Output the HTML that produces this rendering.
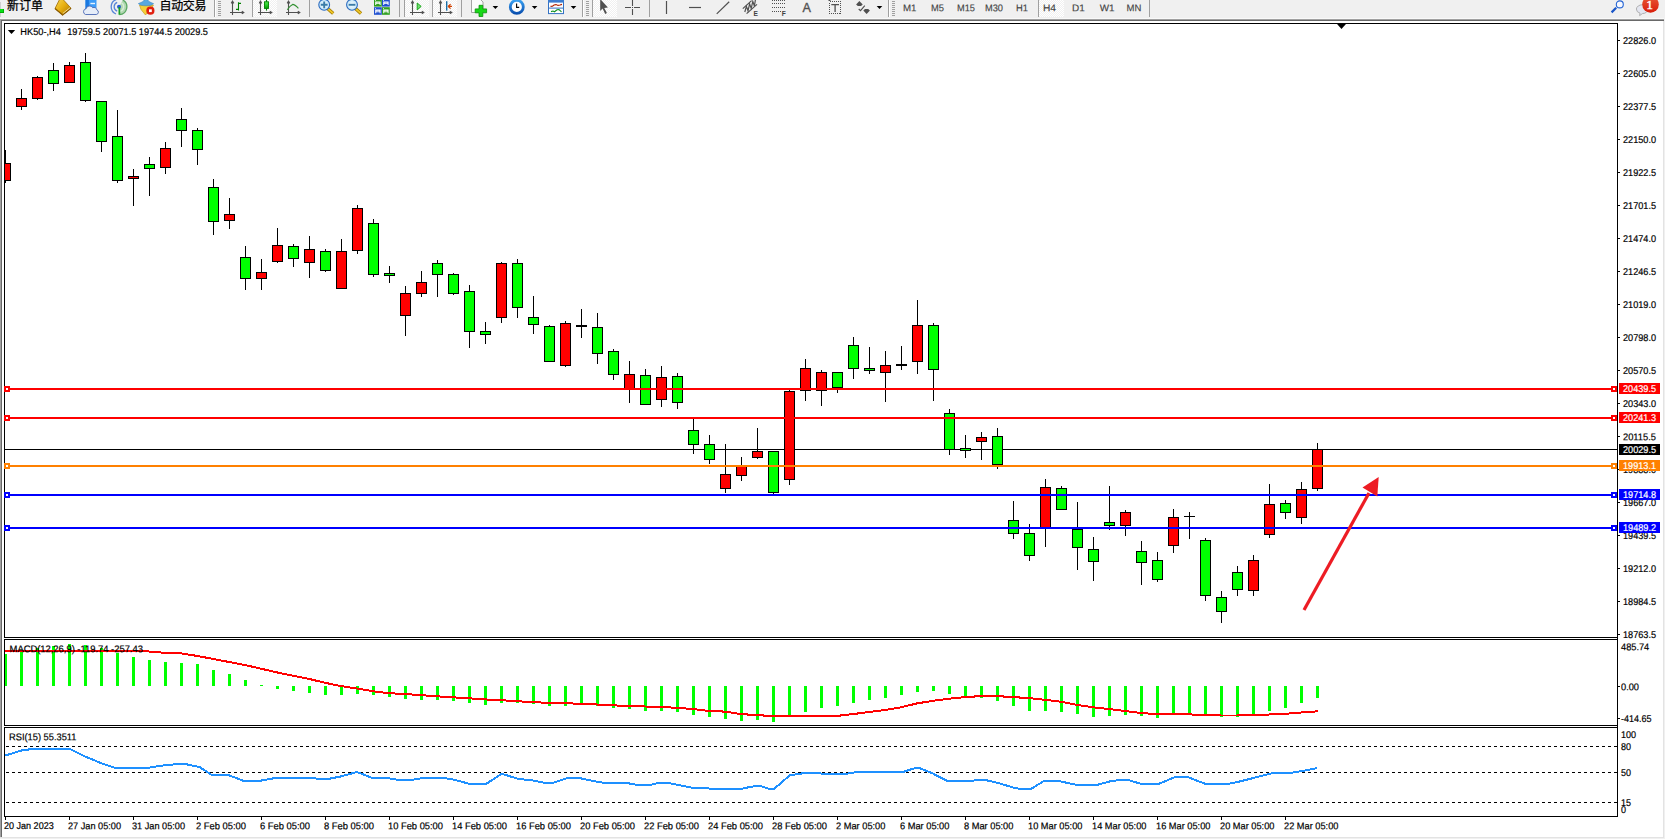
<!DOCTYPE html>
<html><head><meta charset="utf-8"><title>HK50-,H4</title>
<style>
html,body{margin:0;padding:0;background:#fff;}
body{width:1665px;height:839px;overflow:hidden;position:relative;font-family:"Liberation Sans","Noto Sans CJK SC",sans-serif;}
svg text{font-family:"Liberation Sans","Noto Sans CJK SC",sans-serif;}
.ax{font-size:9.8px;fill:#000;stroke:#000;stroke-width:0.2px;}
.wt{fill:#fff;stroke:#fff;}
.tf{font-size:9.8px;fill:#444;stroke:#444;stroke-width:0.15px;}
.cn{font-size:12px;fill:#000;stroke:#000;stroke-width:0.25px;}
</style></head><body>
<svg width="1665" height="839" viewBox="0 0 1665 839" style="position:absolute;left:0;top:0" shape-rendering="crispEdges">
<rect x="0" y="0" width="1665" height="19" fill="#f0f0f0"/>
<rect x="0" y="18" width="1664" height="1" fill="#f9f9f9"/>
<rect x="0" y="19" width="1664" height="1" fill="#a0a0a0"/>
<rect x="1" y="20" width="1663" height="1" fill="#696969"/>
<rect x="0" y="19" width="1" height="818" fill="#a0a0a0"/>
<rect x="1" y="20" width="1" height="817" fill="#696969"/>
<rect x="1663" y="21" width="1" height="817" fill="#e3e3e3"/>
<rect x="1664" y="0" width="1" height="839" fill="#f0f0f0"/>
<rect x="0" y="837" width="1664" height="1" fill="#e3e3e3"/>
<rect x="0" y="838" width="1665" height="1" fill="#f0f0f0"/>
<rect x="4" y="23" width="1614" height="1" fill="#000"/>
<rect x="4" y="637" width="1614" height="1" fill="#000"/>
<rect x="4" y="23" width="1" height="615" fill="#000"/>
<rect x="4" y="639" width="1614" height="1" fill="#000"/>
<rect x="4" y="725" width="1614" height="1" fill="#000"/>
<rect x="4" y="639" width="1" height="87" fill="#000"/>
<rect x="4" y="727" width="1614" height="1" fill="#000"/>
<rect x="4" y="816" width="1614" height="1" fill="#000"/>
<rect x="4" y="727" width="1" height="90" fill="#000"/>
<rect x="1617" y="23" width="1" height="794" fill="#000"/>
<rect x="5" y="449" width="1613" height="1" fill="#000"/>
<g>
<rect x="5" y="150" width="1" height="33" fill="#000"/>
<rect x="5" y="163" width="6" height="18" fill="#000"/>
<rect x="5" y="164" width="5" height="16" fill="#ff0000"/>
<rect x="21" y="89" width="1" height="21" fill="#000"/>
<rect x="16" y="98" width="11" height="9" fill="#000"/>
<rect x="17" y="99" width="9" height="7" fill="#ff0000"/>
<rect x="37" y="76" width="1" height="24" fill="#000"/>
<rect x="32" y="77" width="11" height="22" fill="#000"/>
<rect x="33" y="78" width="9" height="20" fill="#ff0000"/>
<rect x="53" y="63" width="1" height="28" fill="#000"/>
<rect x="48" y="70" width="11" height="14" fill="#000"/>
<rect x="49" y="71" width="9" height="12" fill="#00ff00"/>
<rect x="69" y="62" width="1" height="21" fill="#000"/>
<rect x="64" y="65" width="11" height="18" fill="#000"/>
<rect x="65" y="66" width="9" height="16" fill="#ff0000"/>
<rect x="85" y="53" width="1" height="49" fill="#000"/>
<rect x="80" y="62" width="11" height="39" fill="#000"/>
<rect x="81" y="63" width="9" height="37" fill="#00ff00"/>
<rect x="101" y="101" width="1" height="51" fill="#000"/>
<rect x="96" y="101" width="11" height="41" fill="#000"/>
<rect x="97" y="102" width="9" height="39" fill="#00ff00"/>
<rect x="117" y="110" width="1" height="73" fill="#000"/>
<rect x="112" y="136" width="11" height="45" fill="#000"/>
<rect x="113" y="137" width="9" height="43" fill="#00ff00"/>
<rect x="133" y="169" width="1" height="37" fill="#000"/>
<rect x="128" y="176" width="11" height="3" fill="#000"/>
<rect x="129" y="177" width="9" height="1" fill="#ff0000"/>
<rect x="149" y="157" width="1" height="39" fill="#000"/>
<rect x="144" y="164" width="11" height="5" fill="#000"/>
<rect x="145" y="165" width="9" height="3" fill="#00ff00"/>
<rect x="165" y="142" width="1" height="32" fill="#000"/>
<rect x="160" y="148" width="11" height="20" fill="#000"/>
<rect x="161" y="149" width="9" height="18" fill="#ff0000"/>
<rect x="181" y="108" width="1" height="39" fill="#000"/>
<rect x="176" y="119" width="11" height="12" fill="#000"/>
<rect x="177" y="120" width="9" height="10" fill="#00ff00"/>
<rect x="197" y="128" width="1" height="37" fill="#000"/>
<rect x="192" y="130" width="11" height="20" fill="#000"/>
<rect x="193" y="131" width="9" height="18" fill="#00ff00"/>
<rect x="213" y="179" width="1" height="56" fill="#000"/>
<rect x="208" y="187" width="11" height="35" fill="#000"/>
<rect x="209" y="188" width="9" height="33" fill="#00ff00"/>
<rect x="229" y="198" width="1" height="31" fill="#000"/>
<rect x="224" y="214" width="11" height="7" fill="#000"/>
<rect x="225" y="215" width="9" height="5" fill="#ff0000"/>
<rect x="245" y="246" width="1" height="44" fill="#000"/>
<rect x="240" y="257" width="11" height="22" fill="#000"/>
<rect x="241" y="258" width="9" height="20" fill="#00ff00"/>
<rect x="261" y="259" width="1" height="31" fill="#000"/>
<rect x="256" y="272" width="11" height="7" fill="#000"/>
<rect x="257" y="273" width="9" height="5" fill="#ff0000"/>
<rect x="277" y="228" width="1" height="35" fill="#000"/>
<rect x="272" y="245" width="11" height="17" fill="#000"/>
<rect x="273" y="246" width="9" height="15" fill="#ff0000"/>
<rect x="293" y="244" width="1" height="23" fill="#000"/>
<rect x="288" y="246" width="11" height="13" fill="#000"/>
<rect x="289" y="247" width="9" height="11" fill="#00ff00"/>
<rect x="309" y="236" width="1" height="42" fill="#000"/>
<rect x="304" y="249" width="11" height="14" fill="#000"/>
<rect x="305" y="250" width="9" height="12" fill="#ff0000"/>
<rect x="325" y="249" width="1" height="23" fill="#000"/>
<rect x="320" y="251" width="11" height="20" fill="#000"/>
<rect x="321" y="252" width="9" height="18" fill="#00ff00"/>
<rect x="341" y="239" width="1" height="50" fill="#000"/>
<rect x="336" y="251" width="11" height="38" fill="#000"/>
<rect x="337" y="252" width="9" height="36" fill="#ff0000"/>
<rect x="357" y="205" width="1" height="49" fill="#000"/>
<rect x="352" y="208" width="11" height="43" fill="#000"/>
<rect x="353" y="209" width="9" height="41" fill="#ff0000"/>
<rect x="373" y="219" width="1" height="58" fill="#000"/>
<rect x="368" y="223" width="11" height="52" fill="#000"/>
<rect x="369" y="224" width="9" height="50" fill="#00ff00"/>
<rect x="389" y="266" width="1" height="17" fill="#000"/>
<rect x="384" y="273" width="11" height="3" fill="#000"/>
<rect x="385" y="274" width="9" height="1" fill="#00ff00"/>
<rect x="405" y="286" width="1" height="50" fill="#000"/>
<rect x="400" y="293" width="11" height="23" fill="#000"/>
<rect x="401" y="294" width="9" height="21" fill="#ff0000"/>
<rect x="421" y="271" width="1" height="26" fill="#000"/>
<rect x="416" y="282" width="11" height="12" fill="#000"/>
<rect x="417" y="283" width="9" height="10" fill="#ff0000"/>
<rect x="437" y="260" width="1" height="37" fill="#000"/>
<rect x="432" y="263" width="11" height="12" fill="#000"/>
<rect x="433" y="264" width="9" height="10" fill="#00ff00"/>
<rect x="453" y="273" width="1" height="22" fill="#000"/>
<rect x="448" y="274" width="11" height="20" fill="#000"/>
<rect x="449" y="275" width="9" height="18" fill="#00ff00"/>
<rect x="469" y="285" width="1" height="63" fill="#000"/>
<rect x="464" y="291" width="11" height="41" fill="#000"/>
<rect x="465" y="292" width="9" height="39" fill="#00ff00"/>
<rect x="485" y="322" width="1" height="22" fill="#000"/>
<rect x="480" y="331" width="11" height="4" fill="#000"/>
<rect x="481" y="332" width="9" height="2" fill="#00ff00"/>
<rect x="501" y="262" width="1" height="61" fill="#000"/>
<rect x="496" y="263" width="11" height="55" fill="#000"/>
<rect x="497" y="264" width="9" height="53" fill="#ff0000"/>
<rect x="517" y="259" width="1" height="59" fill="#000"/>
<rect x="512" y="263" width="11" height="45" fill="#000"/>
<rect x="513" y="264" width="9" height="43" fill="#00ff00"/>
<rect x="533" y="296" width="1" height="38" fill="#000"/>
<rect x="528" y="317" width="11" height="8" fill="#000"/>
<rect x="529" y="318" width="9" height="6" fill="#00ff00"/>
<rect x="549" y="325" width="1" height="37" fill="#000"/>
<rect x="544" y="326" width="11" height="36" fill="#000"/>
<rect x="545" y="327" width="9" height="34" fill="#00ff00"/>
<rect x="565" y="321" width="1" height="46" fill="#000"/>
<rect x="560" y="323" width="11" height="43" fill="#000"/>
<rect x="561" y="324" width="9" height="41" fill="#ff0000"/>
<rect x="581" y="309" width="1" height="29" fill="#000"/>
<rect x="576" y="325" width="11" height="2" fill="#000"/>
<rect x="597" y="313" width="1" height="51" fill="#000"/>
<rect x="592" y="327" width="11" height="27" fill="#000"/>
<rect x="593" y="328" width="9" height="25" fill="#00ff00"/>
<rect x="613" y="349" width="1" height="31" fill="#000"/>
<rect x="608" y="351" width="11" height="24" fill="#000"/>
<rect x="609" y="352" width="9" height="22" fill="#00ff00"/>
<rect x="629" y="361" width="1" height="42" fill="#000"/>
<rect x="624" y="374" width="11" height="16" fill="#000"/>
<rect x="625" y="375" width="9" height="14" fill="#ff0000"/>
<rect x="645" y="369" width="1" height="36" fill="#000"/>
<rect x="640" y="375" width="11" height="30" fill="#000"/>
<rect x="641" y="376" width="9" height="28" fill="#00ff00"/>
<rect x="661" y="366" width="1" height="41" fill="#000"/>
<rect x="656" y="377" width="11" height="23" fill="#000"/>
<rect x="657" y="378" width="9" height="21" fill="#ff0000"/>
<rect x="677" y="373" width="1" height="36" fill="#000"/>
<rect x="672" y="376" width="11" height="27" fill="#000"/>
<rect x="673" y="377" width="9" height="25" fill="#00ff00"/>
<rect x="693" y="419" width="1" height="35" fill="#000"/>
<rect x="688" y="430" width="11" height="15" fill="#000"/>
<rect x="689" y="431" width="9" height="13" fill="#00ff00"/>
<rect x="709" y="435" width="1" height="29" fill="#000"/>
<rect x="704" y="444" width="11" height="16" fill="#000"/>
<rect x="705" y="445" width="9" height="14" fill="#00ff00"/>
<rect x="725" y="444" width="1" height="49" fill="#000"/>
<rect x="720" y="474" width="11" height="15" fill="#000"/>
<rect x="721" y="475" width="9" height="13" fill="#ff0000"/>
<rect x="741" y="457" width="1" height="24" fill="#000"/>
<rect x="736" y="466" width="11" height="10" fill="#000"/>
<rect x="737" y="467" width="9" height="8" fill="#ff0000"/>
<rect x="757" y="428" width="1" height="31" fill="#000"/>
<rect x="752" y="451" width="11" height="7" fill="#000"/>
<rect x="753" y="452" width="9" height="5" fill="#ff0000"/>
<rect x="773" y="451" width="1" height="44" fill="#000"/>
<rect x="768" y="451" width="11" height="42" fill="#000"/>
<rect x="769" y="452" width="9" height="40" fill="#00ff00"/>
<rect x="789" y="390" width="1" height="95" fill="#000"/>
<rect x="784" y="391" width="11" height="89" fill="#000"/>
<rect x="785" y="392" width="9" height="87" fill="#ff0000"/>
<rect x="805" y="359" width="1" height="42" fill="#000"/>
<rect x="800" y="368" width="11" height="23" fill="#000"/>
<rect x="801" y="369" width="9" height="21" fill="#ff0000"/>
<rect x="821" y="370" width="1" height="36" fill="#000"/>
<rect x="816" y="372" width="11" height="19" fill="#000"/>
<rect x="817" y="373" width="9" height="17" fill="#ff0000"/>
<rect x="837" y="372" width="1" height="21" fill="#000"/>
<rect x="832" y="372" width="11" height="16" fill="#000"/>
<rect x="833" y="373" width="9" height="14" fill="#00ff00"/>
<rect x="853" y="337" width="1" height="42" fill="#000"/>
<rect x="848" y="345" width="11" height="24" fill="#000"/>
<rect x="849" y="346" width="9" height="22" fill="#00ff00"/>
<rect x="869" y="347" width="1" height="27" fill="#000"/>
<rect x="864" y="368" width="11" height="3" fill="#000"/>
<rect x="865" y="369" width="9" height="1" fill="#00ff00"/>
<rect x="885" y="351" width="1" height="51" fill="#000"/>
<rect x="880" y="365" width="11" height="8" fill="#000"/>
<rect x="881" y="366" width="9" height="6" fill="#ff0000"/>
<rect x="901" y="346" width="1" height="24" fill="#000"/>
<rect x="896" y="364" width="11" height="2" fill="#000"/>
<rect x="917" y="300" width="1" height="74" fill="#000"/>
<rect x="912" y="325" width="11" height="37" fill="#000"/>
<rect x="913" y="326" width="9" height="35" fill="#ff0000"/>
<rect x="933" y="323" width="1" height="78" fill="#000"/>
<rect x="928" y="325" width="11" height="45" fill="#000"/>
<rect x="929" y="326" width="9" height="43" fill="#00ff00"/>
<rect x="949" y="409" width="1" height="46" fill="#000"/>
<rect x="944" y="413" width="11" height="37" fill="#000"/>
<rect x="945" y="414" width="9" height="35" fill="#00ff00"/>
<rect x="965" y="435" width="1" height="23" fill="#000"/>
<rect x="960" y="448" width="11" height="3" fill="#000"/>
<rect x="961" y="449" width="9" height="1" fill="#00ff00"/>
<rect x="981" y="432" width="1" height="28" fill="#000"/>
<rect x="976" y="437" width="11" height="5" fill="#000"/>
<rect x="977" y="438" width="9" height="3" fill="#ff0000"/>
<rect x="997" y="428" width="1" height="41" fill="#000"/>
<rect x="992" y="436" width="11" height="29" fill="#000"/>
<rect x="993" y="437" width="9" height="27" fill="#00ff00"/>
<rect x="1013" y="501" width="1" height="38" fill="#000"/>
<rect x="1008" y="520" width="11" height="14" fill="#000"/>
<rect x="1009" y="521" width="9" height="12" fill="#00ff00"/>
<rect x="1029" y="524" width="1" height="37" fill="#000"/>
<rect x="1024" y="533" width="11" height="23" fill="#000"/>
<rect x="1025" y="534" width="9" height="21" fill="#00ff00"/>
<rect x="1045" y="479" width="1" height="68" fill="#000"/>
<rect x="1040" y="487" width="11" height="42" fill="#000"/>
<rect x="1041" y="488" width="9" height="40" fill="#ff0000"/>
<rect x="1061" y="486" width="1" height="24" fill="#000"/>
<rect x="1056" y="488" width="11" height="22" fill="#000"/>
<rect x="1057" y="489" width="9" height="20" fill="#00ff00"/>
<rect x="1077" y="502" width="1" height="68" fill="#000"/>
<rect x="1072" y="529" width="11" height="19" fill="#000"/>
<rect x="1073" y="530" width="9" height="17" fill="#00ff00"/>
<rect x="1093" y="537" width="1" height="44" fill="#000"/>
<rect x="1088" y="549" width="11" height="13" fill="#000"/>
<rect x="1089" y="550" width="9" height="11" fill="#00ff00"/>
<rect x="1109" y="486" width="1" height="44" fill="#000"/>
<rect x="1104" y="522" width="11" height="4" fill="#000"/>
<rect x="1105" y="523" width="9" height="2" fill="#00ff00"/>
<rect x="1125" y="510" width="1" height="26" fill="#000"/>
<rect x="1120" y="512" width="11" height="14" fill="#000"/>
<rect x="1121" y="513" width="9" height="12" fill="#ff0000"/>
<rect x="1141" y="541" width="1" height="44" fill="#000"/>
<rect x="1136" y="551" width="11" height="12" fill="#000"/>
<rect x="1137" y="552" width="9" height="10" fill="#00ff00"/>
<rect x="1157" y="552" width="1" height="30" fill="#000"/>
<rect x="1152" y="560" width="11" height="20" fill="#000"/>
<rect x="1153" y="561" width="9" height="18" fill="#00ff00"/>
<rect x="1173" y="509" width="1" height="44" fill="#000"/>
<rect x="1168" y="517" width="11" height="29" fill="#000"/>
<rect x="1169" y="518" width="9" height="27" fill="#ff0000"/>
<rect x="1189" y="512" width="1" height="27" fill="#000"/>
<rect x="1184" y="516" width="11" height="1" fill="#000"/>
<rect x="1205" y="538" width="1" height="63" fill="#000"/>
<rect x="1200" y="540" width="11" height="56" fill="#000"/>
<rect x="1201" y="541" width="9" height="54" fill="#00ff00"/>
<rect x="1221" y="591" width="1" height="32" fill="#000"/>
<rect x="1216" y="597" width="11" height="15" fill="#000"/>
<rect x="1217" y="598" width="9" height="13" fill="#00ff00"/>
<rect x="1237" y="566" width="1" height="30" fill="#000"/>
<rect x="1232" y="572" width="11" height="18" fill="#000"/>
<rect x="1233" y="573" width="9" height="16" fill="#00ff00"/>
<rect x="1253" y="555" width="1" height="41" fill="#000"/>
<rect x="1248" y="560" width="11" height="31" fill="#000"/>
<rect x="1249" y="561" width="9" height="29" fill="#ff0000"/>
<rect x="1269" y="484" width="1" height="54" fill="#000"/>
<rect x="1264" y="504" width="11" height="31" fill="#000"/>
<rect x="1265" y="505" width="9" height="29" fill="#ff0000"/>
<rect x="1285" y="500" width="1" height="19" fill="#000"/>
<rect x="1280" y="503" width="11" height="10" fill="#000"/>
<rect x="1281" y="504" width="9" height="8" fill="#00ff00"/>
<rect x="1301" y="482" width="1" height="42" fill="#000"/>
<rect x="1296" y="489" width="11" height="29" fill="#000"/>
<rect x="1297" y="490" width="9" height="27" fill="#ff0000"/>
<rect x="1317" y="443" width="1" height="48" fill="#000"/>
<rect x="1312" y="449" width="11" height="40" fill="#000"/>
<rect x="1313" y="450" width="9" height="38" fill="#ff0000"/>
</g>
<rect x="5" y="388" width="1612" height="2" fill="#ff0000"/>
<rect x="1611" y="386" width="6" height="6" fill="#ff0000"/>
<rect x="1613" y="388" width="2" height="2" fill="#fff"/>
<rect x="4" y="386" width="6" height="6" fill="#ff0000"/>
<rect x="6" y="388" width="2" height="2" fill="#fff"/>
<rect x="5" y="417" width="1612" height="2" fill="#ff0000"/>
<rect x="1611" y="415" width="6" height="6" fill="#ff0000"/>
<rect x="1613" y="417" width="2" height="2" fill="#fff"/>
<rect x="4" y="415" width="6" height="6" fill="#ff0000"/>
<rect x="6" y="417" width="2" height="2" fill="#fff"/>
<rect x="5" y="465" width="1612" height="2" fill="#ff8000"/>
<rect x="1611" y="463" width="6" height="6" fill="#ff8000"/>
<rect x="1613" y="465" width="2" height="2" fill="#fff"/>
<rect x="4" y="463" width="6" height="6" fill="#ff8000"/>
<rect x="6" y="465" width="2" height="2" fill="#fff"/>
<rect x="5" y="494" width="1612" height="2" fill="#0000ff"/>
<rect x="1611" y="492" width="6" height="6" fill="#0000ff"/>
<rect x="1613" y="494" width="2" height="2" fill="#fff"/>
<rect x="4" y="492" width="6" height="6" fill="#0000ff"/>
<rect x="6" y="494" width="2" height="2" fill="#fff"/>
<rect x="5" y="527" width="1612" height="2" fill="#0000ff"/>
<rect x="1611" y="525" width="6" height="6" fill="#0000ff"/>
<rect x="1613" y="527" width="2" height="2" fill="#fff"/>
<rect x="4" y="525" width="6" height="6" fill="#0000ff"/>
<rect x="6" y="527" width="2" height="2" fill="#fff"/>
<rect x="1618" y="40" width="2" height="1" fill="#000"/>
<text class="ax" x="1623.0" y="44.2" transform="rotate(0.03 1623.0 44.2)" textLength="33.0" lengthAdjust="spacingAndGlyphs">22826.0</text>
<rect x="1618" y="73" width="2" height="1" fill="#000"/>
<text class="ax" x="1623.0" y="77.2" transform="rotate(0.03 1623.0 77.2)" textLength="33.0" lengthAdjust="spacingAndGlyphs">22605.0</text>
<rect x="1618" y="106" width="2" height="1" fill="#000"/>
<text class="ax" x="1623.0" y="110.2" transform="rotate(0.03 1623.0 110.2)" textLength="33.0" lengthAdjust="spacingAndGlyphs">22377.5</text>
<rect x="1618" y="139" width="2" height="1" fill="#000"/>
<text class="ax" x="1623.0" y="143.2" transform="rotate(0.03 1623.0 143.2)" textLength="33.0" lengthAdjust="spacingAndGlyphs">22150.0</text>
<rect x="1618" y="172" width="2" height="1" fill="#000"/>
<text class="ax" x="1623.0" y="176.2" transform="rotate(0.03 1623.0 176.2)" textLength="33.0" lengthAdjust="spacingAndGlyphs">21922.5</text>
<rect x="1618" y="205" width="2" height="1" fill="#000"/>
<text class="ax" x="1623.0" y="209.2" transform="rotate(0.03 1623.0 209.2)" textLength="33.0" lengthAdjust="spacingAndGlyphs">21701.5</text>
<rect x="1618" y="238" width="2" height="1" fill="#000"/>
<text class="ax" x="1623.0" y="242.2" transform="rotate(0.03 1623.0 242.2)" textLength="33.0" lengthAdjust="spacingAndGlyphs">21474.0</text>
<rect x="1618" y="271" width="2" height="1" fill="#000"/>
<text class="ax" x="1623.0" y="275.2" transform="rotate(0.03 1623.0 275.2)" textLength="33.0" lengthAdjust="spacingAndGlyphs">21246.5</text>
<rect x="1618" y="304" width="2" height="1" fill="#000"/>
<text class="ax" x="1623.0" y="308.2" transform="rotate(0.03 1623.0 308.2)" textLength="33.0" lengthAdjust="spacingAndGlyphs">21019.0</text>
<rect x="1618" y="337" width="2" height="1" fill="#000"/>
<text class="ax" x="1623.0" y="341.2" transform="rotate(0.03 1623.0 341.2)" textLength="33.0" lengthAdjust="spacingAndGlyphs">20798.0</text>
<rect x="1618" y="370" width="2" height="1" fill="#000"/>
<text class="ax" x="1623.0" y="374.2" transform="rotate(0.03 1623.0 374.2)" textLength="33.0" lengthAdjust="spacingAndGlyphs">20570.5</text>
<rect x="1618" y="403" width="2" height="1" fill="#000"/>
<text class="ax" x="1623.0" y="407.2" transform="rotate(0.03 1623.0 407.2)" textLength="33.0" lengthAdjust="spacingAndGlyphs">20343.0</text>
<rect x="1618" y="436" width="2" height="1" fill="#000"/>
<text class="ax" x="1623.0" y="440.2" transform="rotate(0.03 1623.0 440.2)" textLength="33.0" lengthAdjust="spacingAndGlyphs">20115.5</text>
<rect x="1618" y="469" width="2" height="1" fill="#000"/>
<text class="ax" x="1623.0" y="473.2" transform="rotate(0.03 1623.0 473.2)" textLength="33.0" lengthAdjust="spacingAndGlyphs">19888.0</text>
<rect x="1618" y="502" width="2" height="1" fill="#000"/>
<text class="ax" x="1623.0" y="506.2" transform="rotate(0.03 1623.0 506.2)" textLength="33.0" lengthAdjust="spacingAndGlyphs">19667.0</text>
<rect x="1618" y="535" width="2" height="1" fill="#000"/>
<text class="ax" x="1623.0" y="539.2" transform="rotate(0.03 1623.0 539.2)" textLength="33.0" lengthAdjust="spacingAndGlyphs">19439.5</text>
<rect x="1618" y="568" width="2" height="1" fill="#000"/>
<text class="ax" x="1623.0" y="572.2" transform="rotate(0.03 1623.0 572.2)" textLength="33.0" lengthAdjust="spacingAndGlyphs">19212.0</text>
<rect x="1618" y="601" width="2" height="1" fill="#000"/>
<text class="ax" x="1623.0" y="605.2" transform="rotate(0.03 1623.0 605.2)" textLength="33.0" lengthAdjust="spacingAndGlyphs">18984.5</text>
<rect x="1618" y="634" width="2" height="1" fill="#000"/>
<text class="ax" x="1623.0" y="638.2" transform="rotate(0.03 1623.0 638.2)" textLength="33.0" lengthAdjust="spacingAndGlyphs">18763.5</text>
<rect x="1619" y="444" width="41" height="11" fill="#000"/>
<text class="ax wt" x="1623.0" y="453.2" transform="rotate(0.03 1623.0 453.2)" textLength="33.0" lengthAdjust="spacingAndGlyphs">20029.5</text>
<rect x="1619" y="383" width="41" height="11" fill="#ff0000"/>
<text class="ax wt" x="1623.0" y="392.2" transform="rotate(0.03 1623.0 392.2)" textLength="33.0" lengthAdjust="spacingAndGlyphs">20439.5</text>
<rect x="1619" y="412" width="41" height="11" fill="#ff0000"/>
<text class="ax wt" x="1623.0" y="421.2" transform="rotate(0.03 1623.0 421.2)" textLength="33.0" lengthAdjust="spacingAndGlyphs">20241.3</text>
<rect x="1619" y="460" width="41" height="11" fill="#ff8000"/>
<text class="ax wt" x="1623.0" y="469.2" transform="rotate(0.03 1623.0 469.2)" textLength="33.0" lengthAdjust="spacingAndGlyphs">19913.1</text>
<rect x="1619" y="489" width="41" height="11" fill="#0000ff"/>
<text class="ax wt" x="1623.0" y="498.2" transform="rotate(0.03 1623.0 498.2)" textLength="33.0" lengthAdjust="spacingAndGlyphs">19714.8</text>
<rect x="1619" y="522" width="41" height="11" fill="#0000ff"/>
<text class="ax wt" x="1623.0" y="531.2" transform="rotate(0.03 1623.0 531.2)" textLength="33.0" lengthAdjust="spacingAndGlyphs">19489.2</text>
<path d="M1336.6 23.6 L1346.4 23.6 L1341.5 29.1 Z" fill="#000" shape-rendering="auto"/>
<path d="M7.8 29.9 L15.2 29.9 L11.5 34.1 Z" fill="#000" shape-rendering="auto"/>
<text class="ax" x="20.3" y="35.0" transform="rotate(0.03 20.3 35.0)" textLength="40.6" lengthAdjust="spacingAndGlyphs">HK50-,H4</text>
<text class="ax" x="67.2" y="35.0" transform="rotate(0.03 67.2 35.0)" textLength="140.8" lengthAdjust="spacingAndGlyphs">19759.5 20071.5 19744.5 20029.5</text>
<g shape-rendering="auto"><line x1="1304" y1="610" x2="1369" y2="493" stroke="#ed1c24" stroke-width="3.2"/><path d="M1378.7 477 L1362.5 487.6 L1377.3 496.4 Z" fill="#ed1c24"/></g>
<rect x="5" y="654" width="2" height="32" fill="#00ff00"/>
<rect x="20" y="651" width="3" height="35" fill="#00ff00"/>
<rect x="36" y="648" width="3" height="38" fill="#00ff00"/>
<rect x="52" y="646" width="3" height="40" fill="#00ff00"/>
<rect x="68" y="644" width="3" height="42" fill="#00ff00"/>
<rect x="84" y="645" width="3" height="41" fill="#00ff00"/>
<rect x="100" y="648" width="3" height="38" fill="#00ff00"/>
<rect x="116" y="653" width="3" height="33" fill="#00ff00"/>
<rect x="132" y="657" width="3" height="29" fill="#00ff00"/>
<rect x="148" y="660" width="3" height="26" fill="#00ff00"/>
<rect x="164" y="662" width="3" height="24" fill="#00ff00"/>
<rect x="180" y="663" width="3" height="23" fill="#00ff00"/>
<rect x="196" y="664" width="3" height="22" fill="#00ff00"/>
<rect x="212" y="670" width="3" height="16" fill="#00ff00"/>
<rect x="228" y="674" width="3" height="12" fill="#00ff00"/>
<rect x="244" y="680" width="3" height="6" fill="#00ff00"/>
<rect x="260" y="685" width="3" height="1" fill="#00ff00"/>
<rect x="276" y="686" width="3" height="3" fill="#00ff00"/>
<rect x="292" y="686" width="3" height="5" fill="#00ff00"/>
<rect x="308" y="686" width="3" height="7" fill="#00ff00"/>
<rect x="324" y="686" width="3" height="9" fill="#00ff00"/>
<rect x="340" y="686" width="3" height="9" fill="#00ff00"/>
<rect x="356" y="686" width="3" height="8" fill="#00ff00"/>
<rect x="372" y="686" width="3" height="9" fill="#00ff00"/>
<rect x="388" y="686" width="3" height="11" fill="#00ff00"/>
<rect x="404" y="686" width="3" height="13" fill="#00ff00"/>
<rect x="420" y="686" width="3" height="14" fill="#00ff00"/>
<rect x="436" y="686" width="3" height="14" fill="#00ff00"/>
<rect x="452" y="686" width="3" height="15" fill="#00ff00"/>
<rect x="468" y="686" width="3" height="17" fill="#00ff00"/>
<rect x="484" y="686" width="3" height="19" fill="#00ff00"/>
<rect x="500" y="686" width="3" height="17" fill="#00ff00"/>
<rect x="516" y="686" width="3" height="17" fill="#00ff00"/>
<rect x="532" y="686" width="3" height="18" fill="#00ff00"/>
<rect x="548" y="686" width="3" height="20" fill="#00ff00"/>
<rect x="564" y="686" width="3" height="20" fill="#00ff00"/>
<rect x="580" y="686" width="3" height="19" fill="#00ff00"/>
<rect x="596" y="686" width="3" height="20" fill="#00ff00"/>
<rect x="612" y="686" width="3" height="22" fill="#00ff00"/>
<rect x="628" y="686" width="3" height="23" fill="#00ff00"/>
<rect x="644" y="686" width="3" height="25" fill="#00ff00"/>
<rect x="660" y="686" width="3" height="25" fill="#00ff00"/>
<rect x="676" y="686" width="3" height="26" fill="#00ff00"/>
<rect x="692" y="686" width="3" height="29" fill="#00ff00"/>
<rect x="708" y="686" width="3" height="31" fill="#00ff00"/>
<rect x="724" y="686" width="3" height="33" fill="#00ff00"/>
<rect x="740" y="686" width="3" height="35" fill="#00ff00"/>
<rect x="756" y="686" width="3" height="34" fill="#00ff00"/>
<rect x="772" y="686" width="3" height="36" fill="#00ff00"/>
<rect x="788" y="686" width="3" height="30" fill="#00ff00"/>
<rect x="804" y="686" width="3" height="26" fill="#00ff00"/>
<rect x="820" y="686" width="3" height="22" fill="#00ff00"/>
<rect x="836" y="686" width="3" height="20" fill="#00ff00"/>
<rect x="852" y="686" width="3" height="17" fill="#00ff00"/>
<rect x="868" y="686" width="3" height="14" fill="#00ff00"/>
<rect x="884" y="686" width="3" height="12" fill="#00ff00"/>
<rect x="900" y="686" width="3" height="9" fill="#00ff00"/>
<rect x="916" y="686" width="3" height="6" fill="#00ff00"/>
<rect x="932" y="686" width="3" height="5" fill="#00ff00"/>
<rect x="948" y="686" width="3" height="8" fill="#00ff00"/>
<rect x="964" y="686" width="3" height="10" fill="#00ff00"/>
<rect x="980" y="686" width="3" height="12" fill="#00ff00"/>
<rect x="996" y="686" width="3" height="15" fill="#00ff00"/>
<rect x="1012" y="686" width="3" height="20" fill="#00ff00"/>
<rect x="1028" y="686" width="3" height="25" fill="#00ff00"/>
<rect x="1044" y="686" width="3" height="25" fill="#00ff00"/>
<rect x="1060" y="686" width="3" height="26" fill="#00ff00"/>
<rect x="1076" y="686" width="3" height="28" fill="#00ff00"/>
<rect x="1092" y="686" width="3" height="31" fill="#00ff00"/>
<rect x="1108" y="686" width="3" height="30" fill="#00ff00"/>
<rect x="1124" y="686" width="3" height="29" fill="#00ff00"/>
<rect x="1140" y="686" width="3" height="30" fill="#00ff00"/>
<rect x="1156" y="686" width="3" height="32" fill="#00ff00"/>
<rect x="1172" y="686" width="3" height="28" fill="#00ff00"/>
<rect x="1188" y="686" width="3" height="28" fill="#00ff00"/>
<rect x="1204" y="686" width="3" height="29" fill="#00ff00"/>
<rect x="1220" y="686" width="3" height="31" fill="#00ff00"/>
<rect x="1236" y="686" width="3" height="31" fill="#00ff00"/>
<rect x="1252" y="686" width="3" height="29" fill="#00ff00"/>
<rect x="1268" y="686" width="3" height="25" fill="#00ff00"/>
<rect x="1284" y="686" width="3" height="22" fill="#00ff00"/>
<rect x="1300" y="686" width="3" height="17" fill="#00ff00"/>
<rect x="1316" y="686" width="3" height="12" fill="#00ff00"/>
<polyline points="5,651.0 21,651.0 37,651.0 53,651.0 69,651.0 85,651.0 101,651.0 117,651.0 133,651.0 149,651.5 165,652.8 181,653.4 197,655.9 213,658.9 229,662.0 245,665.0 261,668.7 277,672.4 293,675.7 309,678.9 325,682.8 341,686.1 357,688.5 373,691.2 389,693.2 405,694.0 421,695.1 437,696.3 453,697.3 469,698.3 485,699.4 501,700.2 517,701.2 533,702.2 549,702.8 565,703.2 581,703.8 597,704.5 613,705.3 629,706.1 645,706.5 661,706.9 677,707.9 693,709.0 709,711.0 725,711.6 741,714.1 757,715.1 773,716.1 789,716.3 805,716.3 821,716.3 837,715.9 853,714.1 869,712.0 885,710.0 901,707.3 917,703.4 933,700.8 949,698.7 965,697.1 981,696.1 997,696.1 1013,697.1 1029,698.1 1045,699.8 1061,701.8 1077,704.9 1093,707.3 1109,709.0 1125,711.0 1141,713.0 1157,714.1 1173,714.3 1189,714.3 1205,715.3 1221,715.5 1237,715.5 1253,715.1 1269,714.5 1285,713.8 1301,712.5 1317,711.4 1318,711.3" fill="none" stroke="#ff0000" stroke-width="2" shape-rendering="crispEdges"/>
<text class="ax" x="9.6" y="652.2" transform="rotate(0.03 9.6 652.2)" textLength="133.3" lengthAdjust="spacingAndGlyphs">MACD(12,26,9) -119.74 -257.43</text>
<text class="ax" x="1621.0" y="650.3" transform="rotate(0.03 1621.0 650.3)" textLength="28.2" lengthAdjust="spacingAndGlyphs">485.74</text>
<rect x="1618" y="686" width="2" height="1" fill="#000"/>
<text class="ax" x="1621.0" y="690.2" transform="rotate(0.03 1621.0 690.2)" textLength="18.0" lengthAdjust="spacingAndGlyphs">0.00</text>
<rect x="1618" y="718" width="2" height="1" fill="#000"/>
<text class="ax" x="1621.0" y="722.2" transform="rotate(0.03 1621.0 722.2)" textLength="30.6" lengthAdjust="spacingAndGlyphs">-414.65</text>
<line x1="6" y1="746.5" x2="1617" y2="746.5" stroke="#000" stroke-width="1" stroke-dasharray="3 3"/>
<line x1="6" y1="772.5" x2="1617" y2="772.5" stroke="#000" stroke-width="1" stroke-dasharray="3 3"/>
<line x1="6" y1="802.5" x2="1617" y2="802.5" stroke="#000" stroke-width="1" stroke-dasharray="3 3"/>
<polyline points="5.0,755.6 21.4,750.5 30.0,749.3 70.6,749.3 85.8,756.8 101.0,763.1 114.8,767.7 148.8,767.7 161.5,765.7 176.6,764.1 185.4,764.1 199.3,766.9 211.9,775.0 228.3,775.0 243.4,780.8 259.8,780.8 273.7,778.3 315.3,778.3 319.0,779.0 328.0,779.0 340.6,776.5 357.0,772.0 372.0,777.8 388.5,778.3 398.6,780.0 411.4,780.0 422.7,778.0 444.1,778.0 453.0,779.5 470.6,784.1 485.8,784.1 501.7,773.7 518.6,779.0 532.4,780.3 546.3,783.3 551.4,783.3 566.5,778.3 580.4,778.3 599.3,782.1 606.9,783.3 628.3,783.3 639.7,785.3 648.5,785.3 659.8,782.6 666.1,782.6 680.0,785.3 693.9,788.1 707.8,788.1 711.6,789.1 740.6,789.1 749.4,787.1 755.7,786.1 760.7,786.1 769.6,789.1 773.9,789.1 789.8,775.3 803.6,773.2 820.2,773.2 822.7,774.0 845.4,774.0 855.5,772.2 902.2,772.2 914.8,768.2 919.8,768.2 931.2,772.7 947.6,781.1 971.5,781.1 976.6,780.0 985.4,780.0 999.3,783.3 1014.4,787.9 1022.0,789.1 1030.8,789.1 1043.4,781.3 1059.8,781.3 1077.5,785.1 1096.4,785.1 1110.3,781.3 1119.1,780.0 1128.0,780.0 1141.8,784.1 1158.2,784.1 1174.6,777.3 1188.5,777.3 1205.6,784.0 1228.0,784.0 1237.7,782.0 1272.6,773.1 1289.4,773.1 1303.3,770.8 1317.3,768.0" fill="none" stroke="#1e90ff" stroke-width="2" shape-rendering="crispEdges" stroke-linejoin="round"/>
<text class="ax" x="9.0" y="740.2" transform="rotate(0.03 9.0 740.2)" textLength="67.5" lengthAdjust="spacingAndGlyphs">RSI(15) 55.3511</text>
<text class="ax" x="1621.0" y="738.3" transform="rotate(0.03 1621.0 738.3)" textLength="15.1" lengthAdjust="spacingAndGlyphs">100</text>
<text class="ax" x="1621.0" y="750.0" transform="rotate(0.03 1621.0 750.0)" textLength="10.0" lengthAdjust="spacingAndGlyphs">80</text>
<text class="ax" x="1621.0" y="776.3" transform="rotate(0.03 1621.0 776.3)" textLength="10.0" lengthAdjust="spacingAndGlyphs">50</text>
<text class="ax" x="1621.0" y="806.0" transform="rotate(0.03 1621.0 806.0)" textLength="10.0" lengthAdjust="spacingAndGlyphs">15</text>
<text class="ax" x="1621.0" y="813.1" transform="rotate(0.03 1621.0 813.1)" textLength="5.0" lengthAdjust="spacingAndGlyphs">0</text>
<rect x="5" y="817" width="1" height="3" fill="#000"/>
<text class="ax" x="4.0" y="829.3" transform="rotate(0.03 4.0 829.3)" textLength="49.7" lengthAdjust="spacingAndGlyphs">20 Jan 2023</text>
<rect x="69" y="817" width="1" height="3" fill="#000"/>
<text class="ax" x="68.0" y="829.3" transform="rotate(0.03 68.0 829.3)" textLength="53.0" lengthAdjust="spacingAndGlyphs">27 Jan 05:00</text>
<rect x="133" y="817" width="1" height="3" fill="#000"/>
<text class="ax" x="132.0" y="829.3" transform="rotate(0.03 132.0 829.3)" textLength="53.0" lengthAdjust="spacingAndGlyphs">31 Jan 05:00</text>
<rect x="197" y="817" width="1" height="3" fill="#000"/>
<text class="ax" x="196.0" y="829.3" transform="rotate(0.03 196.0 829.3)" textLength="50.0" lengthAdjust="spacingAndGlyphs">2 Feb 05:00</text>
<rect x="261" y="817" width="1" height="3" fill="#000"/>
<text class="ax" x="260.0" y="829.3" transform="rotate(0.03 260.0 829.3)" textLength="50.0" lengthAdjust="spacingAndGlyphs">6 Feb 05:00</text>
<rect x="325" y="817" width="1" height="3" fill="#000"/>
<text class="ax" x="324.0" y="829.3" transform="rotate(0.03 324.0 829.3)" textLength="50.0" lengthAdjust="spacingAndGlyphs">8 Feb 05:00</text>
<rect x="389" y="817" width="1" height="3" fill="#000"/>
<text class="ax" x="388.0" y="829.3" transform="rotate(0.03 388.0 829.3)" textLength="55.0" lengthAdjust="spacingAndGlyphs">10 Feb 05:00</text>
<rect x="453" y="817" width="1" height="3" fill="#000"/>
<text class="ax" x="452.0" y="829.3" transform="rotate(0.03 452.0 829.3)" textLength="55.0" lengthAdjust="spacingAndGlyphs">14 Feb 05:00</text>
<rect x="517" y="817" width="1" height="3" fill="#000"/>
<text class="ax" x="516.0" y="829.3" transform="rotate(0.03 516.0 829.3)" textLength="55.0" lengthAdjust="spacingAndGlyphs">16 Feb 05:00</text>
<rect x="581" y="817" width="1" height="3" fill="#000"/>
<text class="ax" x="580.0" y="829.3" transform="rotate(0.03 580.0 829.3)" textLength="55.0" lengthAdjust="spacingAndGlyphs">20 Feb 05:00</text>
<rect x="645" y="817" width="1" height="3" fill="#000"/>
<text class="ax" x="644.0" y="829.3" transform="rotate(0.03 644.0 829.3)" textLength="55.0" lengthAdjust="spacingAndGlyphs">22 Feb 05:00</text>
<rect x="709" y="817" width="1" height="3" fill="#000"/>
<text class="ax" x="708.0" y="829.3" transform="rotate(0.03 708.0 829.3)" textLength="55.0" lengthAdjust="spacingAndGlyphs">24 Feb 05:00</text>
<rect x="773" y="817" width="1" height="3" fill="#000"/>
<text class="ax" x="772.0" y="829.3" transform="rotate(0.03 772.0 829.3)" textLength="55.0" lengthAdjust="spacingAndGlyphs">28 Feb 05:00</text>
<rect x="837" y="817" width="1" height="3" fill="#000"/>
<text class="ax" x="836.0" y="829.3" transform="rotate(0.03 836.0 829.3)" textLength="49.4" lengthAdjust="spacingAndGlyphs">2 Mar 05:00</text>
<rect x="901" y="817" width="1" height="3" fill="#000"/>
<text class="ax" x="900.0" y="829.3" transform="rotate(0.03 900.0 829.3)" textLength="49.4" lengthAdjust="spacingAndGlyphs">6 Mar 05:00</text>
<rect x="965" y="817" width="1" height="3" fill="#000"/>
<text class="ax" x="964.0" y="829.3" transform="rotate(0.03 964.0 829.3)" textLength="49.4" lengthAdjust="spacingAndGlyphs">8 Mar 05:00</text>
<rect x="1029" y="817" width="1" height="3" fill="#000"/>
<text class="ax" x="1028.0" y="829.3" transform="rotate(0.03 1028.0 829.3)" textLength="54.4" lengthAdjust="spacingAndGlyphs">10 Mar 05:00</text>
<rect x="1093" y="817" width="1" height="3" fill="#000"/>
<text class="ax" x="1092.0" y="829.3" transform="rotate(0.03 1092.0 829.3)" textLength="54.4" lengthAdjust="spacingAndGlyphs">14 Mar 05:00</text>
<rect x="1157" y="817" width="1" height="3" fill="#000"/>
<text class="ax" x="1156.0" y="829.3" transform="rotate(0.03 1156.0 829.3)" textLength="54.4" lengthAdjust="spacingAndGlyphs">16 Mar 05:00</text>
<rect x="1221" y="817" width="1" height="3" fill="#000"/>
<text class="ax" x="1220.0" y="829.3" transform="rotate(0.03 1220.0 829.3)" textLength="54.4" lengthAdjust="spacingAndGlyphs">20 Mar 05:00</text>
<rect x="1285" y="817" width="1" height="3" fill="#000"/>
<text class="ax" x="1284.0" y="829.3" transform="rotate(0.03 1284.0 829.3)" textLength="54.4" lengthAdjust="spacingAndGlyphs">22 Mar 05:00</text>
</svg>
<svg width="1665" height="19" viewBox="0 0 1665 19" style="position:absolute;left:0;top:0;overflow:hidden">
<defs><pattern id="chk" width="2" height="2" patternUnits="userSpaceOnUse"><rect width="2" height="2" fill="#f0f0f0"/><rect width="1" height="1" fill="#fff"/><rect x="1" y="1" width="1" height="1" fill="#fff"/></pattern><linearGradient id="gold" x1="0" y1="0" x2="1" y2="1"><stop offset="0" stop-color="#f8dc60"/><stop offset="0.5" stop-color="#e8b010"/><stop offset="1" stop-color="#a87000"/></linearGradient><linearGradient id="redb" x1="0" y1="0" x2="0" y2="1"><stop offset="0" stop-color="#ea5a38"/><stop offset="1" stop-color="#d81c08"/></linearGradient><linearGradient id="blu" x1="0" y1="0" x2="0" y2="1"><stop offset="0" stop-color="#3aa0f0"/><stop offset="1" stop-color="#0a50b0"/></linearGradient><linearGradient id="grn" x1="0" y1="0" x2="0" y2="1"><stop offset="0" stop-color="#50f050"/><stop offset="1" stop-color="#00a000"/></linearGradient><radialGradient id="lens"><stop offset="0" stop-color="#f4fbff"/><stop offset="1" stop-color="#c4e6f8"/></radialGradient></defs>
<rect x="0" y="2" width="1" height="15" fill="#d0d0d0"/><rect x="0" y="9" width="4" height="4" fill="#08e018"/><rect x="0" y="12.2" width="4" height="0.8" fill="#00a000"/><rect x="3.3" y="9" width="0.7" height="4" fill="#00a000"/>
<text class="cn" x="7" y="10" textLength="36">新订单</text>
<path d="M60.8 -3 L71 8.2 L62.6 15 L55 8.5 Z" fill="url(#gold)" stroke="#a06c00" stroke-width="0.8"/>
<path d="M55 8.5 L62.6 15 L71 8.2" stroke="#8a5a00" stroke-width="1.3" fill="none"/>
<path d="M62.9 13.4 L70 7.7" stroke="#f8e6a0" stroke-width="0.9"/>
<rect x="85.5" y="-1" width="11" height="10" fill="#3c9cf8"/><rect x="85.5" y="-1" width="3.4" height="10" fill="#1a78e0"/><rect x="90.4" y="2.8" width="4.6" height="1.4" fill="#e8f4ff"/>
<path d="M85.5 14.5 a3 3 0 0 1 0.6 -5.8 a3.6 3.6 0 0 1 6.6 -1 a3 3 0 0 1 4.2 2.2 a2.4 2.4 0 0 1 -0.6 4.6 Z" fill="#e6edf8" stroke="#4a68b4" stroke-width="0.9"/>
<path d="M119 6.8 L122.8 0 A7.8 7.8 0 0 1 119.3 14.6 Z" fill="#9ccf9c" opacity="0.75"/>
<g fill="none" stroke-width="1.3"><path d="M116 14 A7.8 7.8 0 0 1 116 -0.4" stroke="#5a86d8"/><path d="M117.2 11.2 A4.7 4.7 0 0 1 117.2 2.4" stroke="#5a86d8"/><path d="M122.8 0 A7.8 7.8 0 0 1 119.5 14.6" stroke="#5aa862"/><path d="M121.4 2.7 A4.7 4.7 0 0 1 119.6 11.4" stroke="#d8eed8"/></g>
<circle cx="119" cy="6.8" r="2" fill="#2a5cd0"/><rect x="118.5" y="7" width="1.7" height="7.7" fill="#18a028"/>
<path d="M139.5 5 H153.5 L151 9 L145.5 15 L141 9.5 Z" fill="#f4d038" stroke="#c09010" stroke-width="0.6"/>
<path d="M138.3 3.6 Q141 2.6 143 1.5 Q144 -0.5 146 -1 Q148 -0.5 149 1.5 Q151 2.6 153.6 3.6 Q152 5.8 146 5.8 Q140 5.8 138.3 3.6 Z" fill="#58a8e0" stroke="#3880c0" stroke-width="0.5"/>
<circle cx="150.4" cy="10.7" r="4.1" fill="#e02010"/><rect x="149" y="9.3" width="2.8" height="2.8" fill="#fff"/>
<text class="cn" x="159.5" y="10" textLength="47">自动交易</text>
<rect x="214" y="0" width="1" height="17" fill="#a0a0a0"/>
<rect x="215" y="0" width="1" height="17" fill="#fff"/>
<rect x="218" y="1" width="3" height="1" fill="#a0a0a0"/>
<rect x="218" y="3" width="3" height="1" fill="#a0a0a0"/>
<rect x="218" y="5" width="3" height="1" fill="#a0a0a0"/>
<rect x="218" y="7" width="3" height="1" fill="#a0a0a0"/>
<rect x="218" y="9" width="3" height="1" fill="#a0a0a0"/>
<rect x="218" y="11" width="3" height="1" fill="#a0a0a0"/>
<rect x="218" y="13" width="3" height="1" fill="#a0a0a0"/>
<rect x="218" y="15" width="3" height="1" fill="#a0a0a0"/>
<path d="M232.5 1.5 V15 M230.0 12.5 H243.5 M231.2 3.4 L232.5 1.2 L233.8 3.4 M241.8 11.2 L243.8 12.5 L241.8 13.8" stroke="#505050" stroke-width="1.1" fill="none"/>
<path d="M238.5 2.3 V10.6 M238.5 3.4 H241 M236 9.4 H238.5" stroke="#008000" stroke-width="1.1" fill="none"/>
<rect x="252" y="0" width="1" height="17" fill="#a0a0a0"/>
<rect x="253" y="0" width="24" height="17" fill="url(#chk)"/>
<path d="M260.5 1.5 V15 M258.0 12.5 H271.5 M259.2 3.4 L260.5 1.2 L261.8 3.4 M269.8 11.2 L271.8 12.5 L269.8 13.8" stroke="#505050" stroke-width="1.1" fill="none"/>
<path d="M266.5 0 V10.6" stroke="#008000" stroke-width="1.1"/><rect x="264.5" y="1.8" width="4" height="6.6" fill="url(#grn)" stroke="#008000" stroke-width="0.9"/>
<path d="M288.5 1.5 V15 M286.0 12.5 H299.5 M287.2 3.4 L288.5 1.2 L289.8 3.4 M297.8 11.2 L299.8 12.5 L297.8 13.8" stroke="#505050" stroke-width="1.1" fill="none"/>
<path d="M287.3 9.8 Q290 5.5 292.6 4.4 Q294.5 4.2 298.4 8.3" stroke="#309030" stroke-width="1.1" fill="none"/>
<rect x="309" y="0" width="1" height="17" fill="#a0a0a0"/>
<path d="M327.6 8.6 L333.2 13.6" stroke="#a07800" stroke-width="3.4" stroke-linecap="butt"/>
<path d="M328.0 8.9 L333.0 13.3" stroke="#f0c828" stroke-width="1.8"/>
<circle cx="324.2" cy="4.8" r="5.4" fill="url(#lens)" stroke="#2c6cc0" stroke-width="1.1"/>
<path d="M320.8 4.8 H327.6 M324.2 1.4 V8.2" stroke="#3a7ca8" stroke-width="1.9"/>
<path d="M355.4 8.6 L361.0 13.6" stroke="#a07800" stroke-width="3.4" stroke-linecap="butt"/>
<path d="M355.8 8.9 L360.8 13.3" stroke="#f0c828" stroke-width="1.8"/>
<circle cx="352.0" cy="4.8" r="5.4" fill="url(#lens)" stroke="#2c6cc0" stroke-width="1.1"/>
<path d="M348.6 4.8 H355.4" stroke="#3a7ca8" stroke-width="1.9"/>
<rect x="374.0" y="-1.0" width="7.8" height="7.6" fill="#30a020"/>
<path d="M375.2 1.4 h5.4 v3.6 h-1 v-1 h-3.4 v1 h-1 Z" fill="#fff"/>
<rect x="376.4" y="2.5" width="3" height="0.9" fill="#30a020" opacity="0.55"/>
<rect x="375.0" y="-0.1" width="1" height="1" fill="#fff" opacity="0.8"/>
<rect x="382.0" y="-1.0" width="7.8" height="7.6" fill="#2050d0"/>
<path d="M383.2 1.4 h5.4 v3.6 h-1 v-1 h-3.4 v1 h-1 Z" fill="#fff"/>
<rect x="384.4" y="2.5" width="3" height="0.9" fill="#2050d0" opacity="0.55"/>
<rect x="383.0" y="-0.1" width="1" height="1" fill="#fff" opacity="0.8"/>
<rect x="374.0" y="7.2" width="7.8" height="7.6" fill="#2050d0"/>
<path d="M375.2 9.6 h5.4 v3.6 h-1 v-1 h-3.4 v1 h-1 Z" fill="#fff"/>
<rect x="376.4" y="10.7" width="3" height="0.9" fill="#2050d0" opacity="0.55"/>
<rect x="375.0" y="8.1" width="1" height="1" fill="#fff" opacity="0.8"/>
<rect x="382.0" y="7.2" width="7.8" height="7.6" fill="#30a020"/>
<path d="M383.2 9.6 h5.4 v3.6 h-1 v-1 h-3.4 v1 h-1 Z" fill="#fff"/>
<rect x="384.4" y="10.7" width="3" height="0.9" fill="#30a020" opacity="0.55"/>
<rect x="383.0" y="8.1" width="1" height="1" fill="#fff" opacity="0.8"/>
<rect x="399" y="0" width="1" height="17" fill="#a0a0a0"/>
<rect x="404" y="0" width="1" height="17" fill="#a0a0a0"/>
<rect x="405" y="0" width="24" height="17" fill="url(#chk)"/>
<path d="M412.5 1.5 V15 M410.0 12.5 H423.5 M411.2 3.4 L412.5 1.2 L413.8 3.4 M421.8 11.2 L423.8 12.5 L421.8 13.8" stroke="#505050" stroke-width="1.1" fill="none"/>
<path d="M417.2 3 V9.9 L421.2 6.4 Z" fill="#70e070" stroke="#10a010" stroke-width="0.9"/>
<rect x="432" y="0" width="1" height="17" fill="#a0a0a0"/>
<rect x="433" y="0" width="24" height="17" fill="url(#chk)"/>
<path d="M440.5 1.5 V15 M438.0 12.5 H451.5 M439.2 3.4 L440.5 1.2 L441.8 3.4 M449.8 11.2 L451.8 12.5 L449.8 13.8" stroke="#505050" stroke-width="1.1" fill="none"/>
<rect x="446" y="1.2" width="1.4" height="9.4" fill="#1a6fa8"/>
<path d="M448 6.4 H452 M448 6.4 L450.6 4.2 M448 6.4 L450.6 8.6" stroke="#d04000" stroke-width="1.2" fill="none"/>
<rect x="461" y="0" width="1" height="17" fill="#a0a0a0"/>
<path d="M471.5 -1 H480 L483 2 V12.5 H471.5 Z" fill="#fcfcfc" stroke="#909090" stroke-width="0.8"/>
<path d="M479 5.3 h3.8 v3.6 h3.8 v3.9 h-3.8 v3.7 h-3.8 v-3.7 h-3.8 v-3.9 h3.8 Z" fill="#18d818" stroke="#089008" stroke-width="0.8"/>
<path d="M492.6 6 H498.2 L495.4 9 Z" fill="#000"/>
<circle cx="516.8" cy="6.9" r="6.5" fill="#fdfdfd" stroke="url(#blu)" stroke-width="2.8"/>
<path d="M516.6 3.4 V7.4 H519.2" stroke="#000" stroke-width="1.1" fill="none"/>
<path d="M531.8 6 H537.4 L534.6 9 Z" fill="#000"/>
<rect x="548.5" y="-1" width="15" height="14.6" fill="#fff" stroke="#3472c4" stroke-width="1"/><rect x="548" y="-1" width="16" height="3.6" fill="#3c7cd0"/><rect x="549" y="7.6" width="14" height="1" fill="#3472c4"/>
<path d="M550.5 6.4 L552.5 6.2 L554 5 L556 4.6 L558 5.4 L560 5 L562 4.4" stroke="#b02000" stroke-width="1.1" fill="none"/>
<path d="M551 11.6 L553 11 L554.5 11.8 L557 9.8 L559 9.6 L561.5 11.8" stroke="#109020" stroke-width="1.1" fill="none"/>
<path d="M570.7 6 H576.3 L573.5 9 Z" fill="#000"/>
<rect x="582" y="0" width="1" height="17" fill="#a0a0a0"/>
<rect x="583" y="0" width="1" height="17" fill="#fff"/>
<rect x="586" y="1" width="3" height="1" fill="#a0a0a0"/>
<rect x="586" y="3" width="3" height="1" fill="#a0a0a0"/>
<rect x="586" y="5" width="3" height="1" fill="#a0a0a0"/>
<rect x="586" y="7" width="3" height="1" fill="#a0a0a0"/>
<rect x="586" y="9" width="3" height="1" fill="#a0a0a0"/>
<rect x="586" y="11" width="3" height="1" fill="#a0a0a0"/>
<rect x="586" y="13" width="3" height="1" fill="#a0a0a0"/>
<rect x="586" y="15" width="3" height="1" fill="#a0a0a0"/>
<rect x="592" y="0" width="1" height="17" fill="#a0a0a0"/>
<rect x="593" y="0" width="24" height="17" fill="url(#chk)"/>
<path d="M600.2 -1 V10.9 L602.6 8.6 L605.2 13.9 L606.9 13.1 L604.3 7.9 L607.9 7.4 Z" fill="#505050"/>
<path d="M625 7.5 H631 M634 7.5 H640 M632.5 0 V6 M632.5 9 V15" stroke="#505050" stroke-width="1.1" fill="none"/><rect x="632" y="7" width="1" height="1" fill="#505050"/>
<rect x="649" y="0" width="1" height="17" fill="#a0a0a0"/>
<path d="M666.5 1 V14" stroke="#505050" stroke-width="1.2"/>
<path d="M689 7.5 H701" stroke="#505050" stroke-width="1.2"/>
<path d="M716.7 13.9 L729.2 1.8" stroke="#505050" stroke-width="1.2"/>
<path d="M742.8 8.6 L751.6 0.6 M746.6 13.6 L757 4.4" stroke="#505050" stroke-width="1.2" fill="none"/>
<path d="M744.8 12 L746.4 6.4 L748 10.8 L749.6 3.8 L751.2 8.4 L752.8 1.4 L754.4 6 L755.4 0" stroke="#505050" stroke-width="1.2" fill="none"/>
<text x="753.6" y="15.8" style="font-size:6.6px;font-weight:bold;fill:#404040">E</text>
<path d="M772.2 0.7 H785" stroke="#505050" stroke-width="1" stroke-dasharray="1 1" shape-rendering="crispEdges"/>
<path d="M772.2 3.7 H785" stroke="#505050" stroke-width="1" stroke-dasharray="1 1" shape-rendering="crispEdges"/>
<path d="M772.2 7.7 H785" stroke="#505050" stroke-width="1" stroke-dasharray="1 1" shape-rendering="crispEdges"/>
<path d="M772.2 11.7 H781" stroke="#505050" stroke-width="1" stroke-dasharray="1 1" shape-rendering="crispEdges"/>
<text x="781.8" y="15.8" style="font-size:6.6px;font-weight:bold;fill:#404040">F</text>
<text x="802.4" y="12" style="font-size:12.6px;fill:#505050;stroke:#505050;stroke-width:0.35px">A</text>
<rect x="829.5" y="1.5" width="11" height="12" fill="none" stroke="#505050" stroke-width="1" stroke-dasharray="1 1" shape-rendering="crispEdges"/>
<path d="M828.5 0 h2 v1 h-2 Z" fill="#505050"/>
<path d="M831.3 4.6 H839 M835.1 4.6 V12" stroke="#505050" stroke-width="1.3" fill="none"/>
<path d="M856.1 4.4 L859.4 1 L862.7 4.4 L861 6 L857.8 6 Z" fill="#505050"/>
<path d="M858.7 9 L860.5 10.6 L864.8 5.6" stroke="#505050" stroke-width="1.1" fill="none"/>
<path d="M863.3 10.6 L865 9 L868.2 9 L869.9 10.6 L866.6 14 Z" fill="#505050"/>
<path d="M876.7 6 H882.3 L879.5 9 Z" fill="#000"/>
<rect x="888" y="0" width="1" height="17" fill="#a0a0a0"/>
<rect x="889" y="0" width="1" height="17" fill="#fff"/>
<rect x="892" y="1" width="3" height="1" fill="#a0a0a0"/>
<rect x="892" y="3" width="3" height="1" fill="#a0a0a0"/>
<rect x="892" y="5" width="3" height="1" fill="#a0a0a0"/>
<rect x="892" y="7" width="3" height="1" fill="#a0a0a0"/>
<rect x="892" y="9" width="3" height="1" fill="#a0a0a0"/>
<rect x="892" y="11" width="3" height="1" fill="#a0a0a0"/>
<rect x="892" y="13" width="3" height="1" fill="#a0a0a0"/>
<rect x="892" y="15" width="3" height="1" fill="#a0a0a0"/>
<rect x="1038" y="0" width="1" height="17" fill="#a0a0a0"/>
<rect x="1039" y="0" width="25" height="17" fill="url(#chk)"/>
<text class="tf" x="903.0" y="11.3" transform="rotate(0.03 903.0 11.3)" textLength="13.5" lengthAdjust="spacingAndGlyphs">M1</text>
<text class="tf" x="931.0" y="11.3" transform="rotate(0.03 931.0 11.3)" textLength="13.0" lengthAdjust="spacingAndGlyphs">M5</text>
<text class="tf" x="957.0" y="11.3" transform="rotate(0.03 957.0 11.3)" textLength="18.0" lengthAdjust="spacingAndGlyphs">M15</text>
<text class="tf" x="985.0" y="11.3" transform="rotate(0.03 985.0 11.3)" textLength="18.0" lengthAdjust="spacingAndGlyphs">M30</text>
<text class="tf" x="1016.0" y="11.3" transform="rotate(0.03 1016.0 11.3)" textLength="12.0" lengthAdjust="spacingAndGlyphs">H1</text>
<text class="tf" x="1043.0" y="11.3" transform="rotate(0.03 1043.0 11.3)" textLength="13.0" lengthAdjust="spacingAndGlyphs">H4</text>
<text class="tf" x="1072.0" y="11.3" transform="rotate(0.03 1072.0 11.3)" textLength="12.7" lengthAdjust="spacingAndGlyphs">D1</text>
<text class="tf" x="1099.7" y="11.3" transform="rotate(0.03 1099.7 11.3)" textLength="14.8" lengthAdjust="spacingAndGlyphs">W1</text>
<text class="tf" x="1126.6" y="11.3" transform="rotate(0.03 1126.6 11.3)" textLength="14.8" lengthAdjust="spacingAndGlyphs">MN</text>
<rect x="1149" y="0" width="1" height="17" fill="#a0a0a0"/>
<path d="M1616.2 7.8 L1611.6 12.4" stroke="#1a56c8" stroke-width="2.2"/><circle cx="1619.8" cy="4.4" r="3.5" fill="#f6f8ff" stroke="#2464d4" stroke-width="1.1"/>
<path d="M1636.4 9 a5.8 4.4 0 1 1 6 4.6 L1639.6 15.6 L1640 13.2 a5.8 4.4 0 0 1 -3.6 -4.2 Z" fill="#e4e6f0" stroke="#a8a8a8" stroke-width="0.9"/>
<circle cx="1650.5" cy="4.4" r="8.3" fill="url(#redb)"/>
<text x="1646.3" y="9" style="font-family:'Liberation Serif',serif;font-size:13.5px;fill:#fff;stroke:#fff;stroke-width:0.4px">1</text>
</svg>
</body></html>
